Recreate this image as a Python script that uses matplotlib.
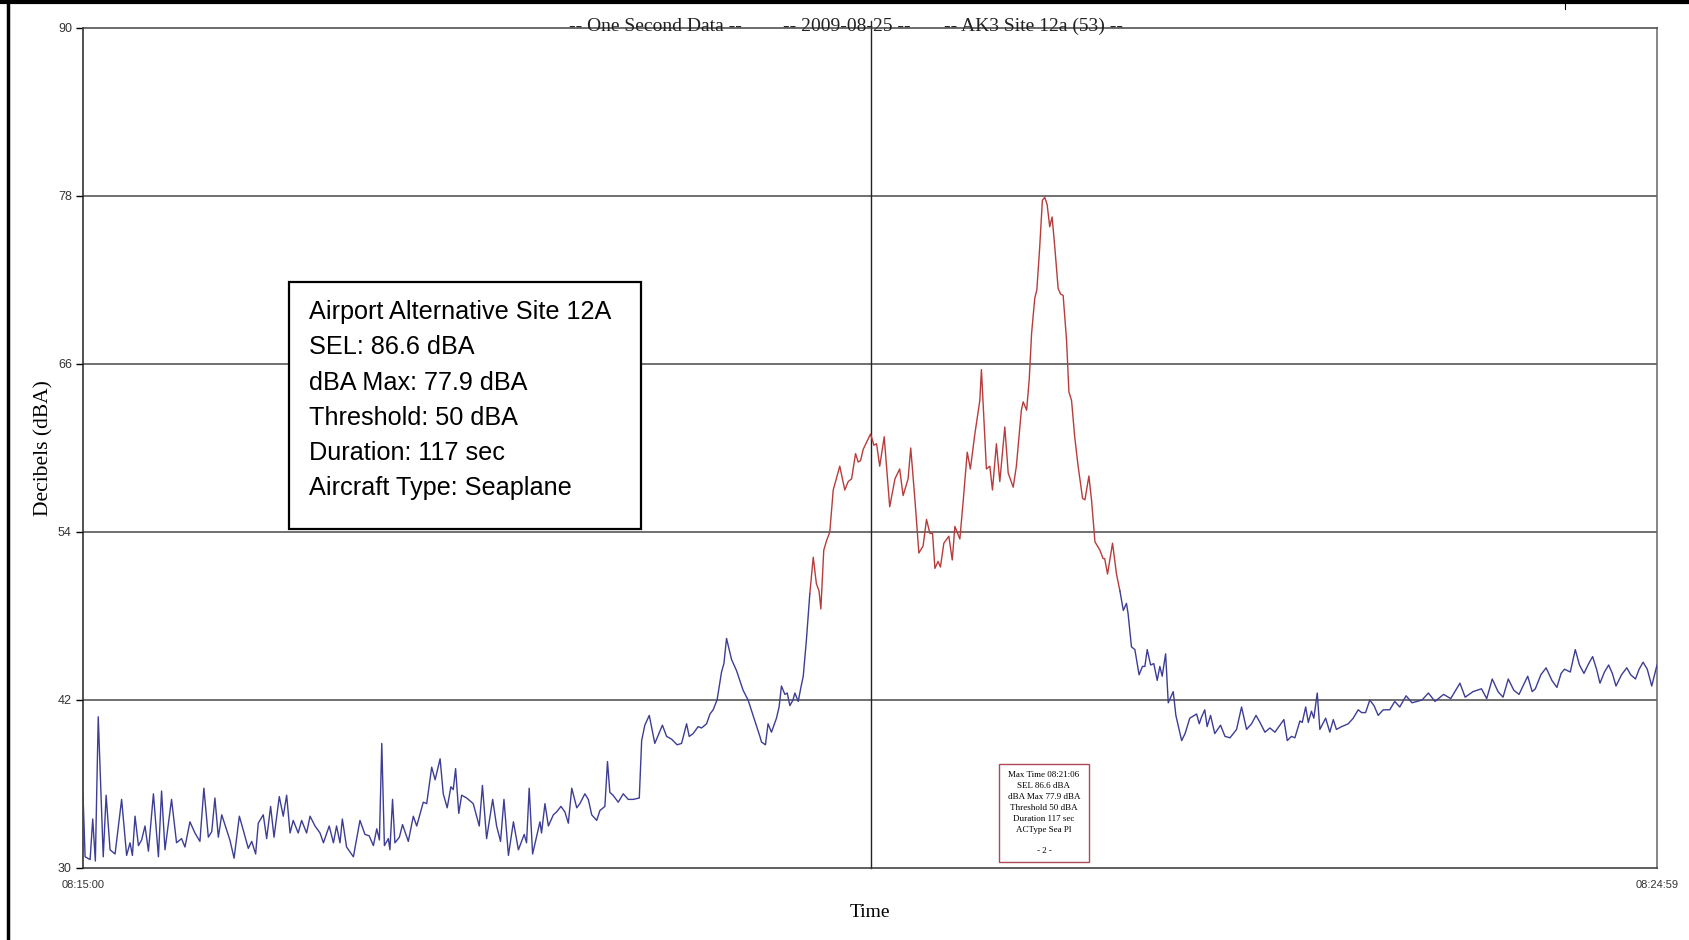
import numpy as np
import matplotlib.pyplot as plt
from matplotlib.patches import Rectangle
from matplotlib.lines import Line2D

#%%----- data (seconds after 08:15:00, dBA) -----------------------------------
secs = [0, 0.8, 2.7, 3.7, 4.7, 5.8, 7.7, 8.8, 10.3, 12.2, 14.7, 16.6, 17.9, 18.8,
        19.8, 21.1, 22.3, 23.6, 24.9, 26.8, 28.7, 29.9, 31.2, 33.7, 35.6, 37.5,
        38.8, 40.7, 42.6, 44.5, 46.0, 47.7, 49.0, 50.2, 51.5, 52.8, 54.7, 55.9,
        57.5, 59.5, 61.0, 62.9, 64.2, 65.7, 66.7, 68.6, 69.9, 71.4, 72.7, 74.7,
        76.2, 77.5, 78.8, 80.0, 81.9, 83.2, 85.1, 86.4, 88.3, 90.2, 91.5, 93.7,
        95.3, 96.5, 97.8, 98.7, 100.3, 102.9, 105.4, 107.3, 108.9, 110.5, 111.8,
        112.8, 113.7, 114.7, 116.2, 116.8, 117.8, 118.7, 120.4, 121.6, 123.8,
        125.7, 127.0, 129.5, 130.8, 132.7, 134.0, 135.9, 137.1, 138.6, 140.0,
        140.9, 141.8, 143.0, 144.1, 146.0, 148.5, 150.8, 152.0, 153.6, 155.9,
        157.4, 158.9, 160.2, 161.9, 163.8, 165.7, 167.9, 168.8, 169.8, 171.1,
        173.9, 174.5, 175.8, 177.1, 179.0, 180.2, 181.9, 183.4, 184.7, 186.0,
        187.9, 189.1, 191.0, 192.3, 193.6, 195.5, 196.7, 198.6, 199.6, 200.5,
        201.7, 203.7, 205.6, 207.5, 209.4, 211.7, 212.6, 213.8, 215.5, 217.6,
        220.5, 222.1, 224.0, 226.1, 227.8, 229.7, 230.7, 232.2, 234.1, 235.4,
        237.3, 238.6, 239.8, 241.3, 243.0, 243.9, 244.9, 246.8, 248.7, 251.2,
        253.1, 255.0, 257.6, 258.2, 259.7, 260.7, 262.0, 263.9, 264.9, 265.8,
        267.1, 268.0, 269.0, 270.2, 270.9, 272.2, 273.2, 274.1, 275.3, 276.6,
        277.9, 279.1, 280.1, 280.8, 281.9, 283.0, 284.2, 285.5, 288.0, 289.9,
        291.2, 292.5, 294.0, 295.0, 295.9, 296.9, 299.7, 301.0, 302.0, 303.2,
        304.9, 307.0, 309.0, 310.8, 312.1, 314.0, 315.0, 316.6, 318.1, 319.7,
        321.0, 322.3, 323.3, 324.2, 325.4, 326.3, 327.6, 329.5, 330.8, 331.8,
        333.7, 335.0, 336.5, 337.7, 339.4, 341.3, 341.9, 343.8, 345.1, 346.1,
        347.6, 348.9, 350.8, 352.1, 354.0, 355.2, 357.1, 357.8, 359.1, 360.1,
        361.0, 362.2, 363.0, 364.1, 365.1, 366.0, 366.9, 367.9, 368.8, 369.8,
        371.1, 372.0, 373.0, 374.3, 375.2, 376.2, 377.4, 378.7, 380.4, 381.3,
        382.8, 383.8, 385.1, 387.0, 388.2, 388.8, 389.9, 391.8, 393.3, 394.6,
        395.9, 397.1, 397.7, 399.0, 400.3, 401.9, 403.2, 404.1, 405.0, 406.3,
        407.5, 408.8, 409.8, 410.7, 412.0, 413.0, 414.9, 415.9, 418.1, 419.4,
        421.2, 423.8, 424.8, 425.7, 426.9, 427.8, 429.1, 430.7, 432.9, 434.6,
        436.5, 439.0, 440.9, 442.8, 444.7, 446.4, 447.9, 449.8, 451.7, 453.6,
        455.1, 457.0, 458.3, 459.9, 461.2, 463.1, 464.0, 465.3, 466.3, 467.5,
        468.4, 469.7, 470.7, 472.9, 474.5, 475.8, 477.0, 479.0, 481.5, 483.4,
        485.3, 486.6, 488.1, 489.7, 491.3, 492.9, 494.8, 497.3, 499.2, 501.1,
        503.5, 505.8, 509.6, 512.0, 514.5, 517.8, 520.5, 524.0, 526.0, 529.0,
        532.2, 534.2, 536.3, 538.5, 540.4, 542.4, 544.5, 546.5, 548.0, 549.8,
        551.5, 552.7, 554.8, 556.8, 559.0, 560.9, 562.5, 563.8, 566.0, 567.9,
        569.5, 571.2, 573.0, 574.5, 576.0, 577.3, 579.0, 580.6, 582.0, 583.4,
        585.5, 587.5, 589.0, 590.8, 592.2, 593.7, 595.3, 597.0, 599.0]

dba = [35.3, 30.8, 30.6, 33.5, 30.5, 40.8, 30.8, 35.2, 31.3, 31.0, 34.9, 30.9, 31.8, 30.9,
       33.7, 31.6, 32.0, 33.0, 31.2, 35.3, 30.8, 35.5, 31.3, 34.9, 31.8, 32.1,
       31.5, 33.3, 32.5, 31.9, 35.7, 32.2, 32.6, 35.0, 32.2, 33.8, 32.7, 32.0,
       30.7, 33.7, 32.7, 31.4, 31.9, 31.0, 33.2, 33.8, 32.1, 34.4, 32.2, 35.1,
       33.7, 35.2, 32.5, 33.4, 32.5, 33.4, 32.5, 33.7, 33.0, 32.5, 31.8, 33.0,
       31.8, 33.0, 31.8, 33.5, 31.5, 30.8, 33.4, 32.4, 32.3, 31.6, 32.8,
       32.0, 38.9, 31.6, 32.1, 31.3, 34.9, 31.8, 32.2, 33.1, 31.9,
       33.7, 33.0, 34.7, 34.6, 37.2, 36.3, 37.8, 35.3, 34.3, 35.8,
       35.6, 37.1, 33.9, 35.2, 35.0, 34.6, 33.0, 35.9, 32.1, 34.9,
       33.0, 31.9, 34.9, 30.9, 33.3, 31.3, 32.4, 31.8, 35.7, 31.0,
       33.3, 32.5, 34.6, 33.0, 33.8, 34.0, 34.4, 34.0, 33.2, 35.7,
       34.3, 34.6, 35.3, 34.9, 33.8, 33.4, 34.1, 34.4, 37.6, 35.4,
       35.2, 34.7, 35.3, 34.9, 34.9, 35.0, 39.1, 40.2, 40.9, 38.9,
       40.2, 39.4, 39.2, 38.8, 38.9, 40.3, 39.4, 39.6, 40.1, 40.0,
       40.3, 41.0, 41.3, 42.0, 44.0, 44.6, 46.4, 44.9, 44.1, 42.7,
       42.0, 40.9, 39.4, 39.0, 38.8, 40.3, 39.7, 40.7, 41.5, 43.0,
       42.4, 42.5, 41.6, 42.0, 42.5, 41.9, 42.9, 43.7, 46.3, 49.6,
       52.2, 50.3, 49.8, 48.5, 52.7, 53.4, 54.0, 57.0, 58.7, 57.0,
       57.6, 57.8, 59.6, 59.0, 59.1, 59.9, 61.0, 60.2, 60.3, 58.7,
       60.8, 55.8, 57.8, 58.5, 56.6, 57.8, 60.0, 56.3, 52.5, 53.0,
       54.9, 53.9, 53.9, 51.4, 51.9, 51.5, 53.2, 53.7, 52.0, 54.4,
       53.5, 56.3, 59.7, 58.5, 61.0, 63.4, 65.6, 58.5, 58.7, 57.0,
       60.3, 57.6, 61.5, 58.2, 57.2, 58.7, 62.7, 63.3, 62.7, 64.9,
       68.2, 70.7, 71.3, 74.4, 77.7, 77.9, 77.4, 75.8, 76.5, 74.4,
       71.4, 71.0, 70.9, 67.7, 64.0, 63.4, 60.8, 58.7, 56.4, 56.3,
       58.0, 56.3, 53.3, 52.7, 52.1, 52.1, 51.0, 53.2, 51.0, 49.8,
       48.4, 48.9, 48.2, 45.8, 45.6, 43.8, 44.4, 44.4, 45.6, 44.5,
       44.6, 43.4, 44.4, 43.7, 45.3, 41.8, 42.6, 40.9, 39.1, 39.6,
       40.7, 41.0, 40.3, 40.8, 41.3, 40.1, 40.9, 39.6, 40.2, 39.4,
       39.3, 39.9, 41.5, 39.9, 40.3, 40.9, 40.4, 39.7, 40.0, 39.7,
       40.1, 40.6, 39.1, 39.4, 39.3, 40.5, 40.4, 41.5, 40.4, 41.2,
       40.7, 42.5, 39.9, 40.7, 39.7, 40.6, 39.9, 40.1, 40.3, 40.7,
       41.3, 41.1, 41.1, 42.0, 41.6, 40.9, 41.3, 41.3, 41.9, 41.5,
       42.3, 41.8, 42.0, 42.5, 41.9, 42.4, 42.1, 43.2, 42.2, 42.6,
       42.8, 42.1, 43.5, 42.6, 42.2, 43.5, 42.7, 42.4, 43.0, 43.7,
       42.6, 42.8, 43.8, 44.3, 43.4, 42.9, 43.9, 44.2, 44.0, 45.6,
       44.5, 43.9, 44.6, 45.1, 44.2, 43.2, 44.0, 44.5, 43.9, 43.0,
       43.8, 44.3, 43.8, 43.5, 44.2, 44.7, 44.2, 43.0, 44.5]

event_start = 276.6   # first second above threshold
event_end = 394.6     # 117 sec later

y_ticks = [30, 42, 54, 66, 78, 90]
x_ticks = [0, 599]
x_tick_labels = ['08:15:00', '08:24:59']
center_time = 300

title_parts = ['-- One Second Data --', '-- 2009-08-25 --', '-- AK3 Site 12a (53) --']
info_lines = ['Airport Alternative Site 12A', 'SEL: 86.6 dBA', 'dBA Max: 77.9 dBA',
              'Threshold: 50 dBA', 'Duration: 117 sec', 'Aircraft Type: Seaplane']
small_lines = ['Max Time 08:21:06', 'SEL 86.6 dBA', 'dBA Max 77.9 dBA',
               'Threshold 50 dBA', 'Duration 117 sec', 'ACType Sea Pl']

#%%----- figure ---------------------------------------------------------------
W, H = 1690, 940
def fx(x):
    return x / W
def fy(y):
    return 1 - y / H

serif = ['Liberation Serif', 'DejaVu Serif']
narrow = ['Liberation Sans Narrow', 'Liberation Sans', 'DejaVu Sans']

fig = plt.figure(figsize=(16.9, 9.4), dpi=100)
ax = fig.add_axes([fx(83), fy(868), fx(1657) - fx(83), fy(28) - fy(868)])

t = np.array(secs)
v = np.array(dba)
blue = '#3d3d96'
red = '#b83c3c'
m1 = t <= event_start
m2 = (t >= event_start) & (t <= event_end)
m3 = t >= event_end
ax.plot(t[m1], v[m1], color=blue, lw=1.0, zorder=3)
ax.plot(t[m2], v[m2], color=red, lw=1.0, zorder=3)
ax.plot(t[m3], v[m3], color=blue, lw=1.0, zorder=3)

ax.set_xlim(0, 599)
ax.set_ylim(30, 90)
for yy in y_ticks[1:-1]:
    ax.axhline(yy, color='#4a4a4a', lw=1.1, zorder=1)
ax.axvline(center_time, ymin=0, ymax=1.008, color='#222222', lw=1.0, zorder=1, clip_on=False)

ax.set_yticks(y_ticks)
ax.set_xticks(x_ticks)
ax.set_xticklabels(x_tick_labels)
ax.tick_params(axis='x', length=0, pad=9, labelsize=8)
ax.tick_params(axis='y', length=5, width=1, pad=3, labelsize=9, direction='out')
for lab in ax.get_xticklabels() + ax.get_yticklabels():
    lab.set_fontfamily(narrow)
    lab.set_color('#333333')

ax.spines['left'].set_color('#222222')
ax.spines['bottom'].set_color('#333333')
ax.spines['top'].set_color('#444444')
ax.spines['right'].set_color('#666666')
for s in ax.spines.values():
    s.set_linewidth(1.1)

ax.set_ylabel('Decibels (dBA)', fontfamily=serif, fontsize=15.5, labelpad=3)
ax.set_xlabel('Time', fontfamily=serif, fontsize=14, labelpad=10)

# title pieces sitting on top border
for xc, txt in zip([655, 847, 1034], title_parts):
    fig.text(fx(xc), fy(31), txt, ha='center', va='baseline',
             fontfamily=serif, fontsize=14, color='#222222')

# main info box
fig.add_artist(Rectangle((fx(289), fy(529)), fx(641) - fx(289), fy(282) - fy(529),
                         transform=fig.transFigure, facecolor='white',
                         edgecolor='black', lw=1.6, zorder=5))
for i, line in enumerate(info_lines):
    fig.text(fx(309), fy(312 + i * 35.3), line, ha='left', va='center',
             fontfamily=['Liberation Sans', 'DejaVu Sans'], fontsize=18.2, zorder=6)

# small red summary box
fig.add_artist(Rectangle((fx(999), fy(862)), fx(1089) - fx(999), fy(764) - fy(862),
                         transform=fig.transFigure, facecolor='white',
                         edgecolor='#b04858', lw=1.0, zorder=5))
for i, line in enumerate(small_lines):
    fig.text(fx(1044), fy(775 + i * 11), line, ha='center', va='center',
             fontfamily=serif, fontsize=6.5, zorder=6)
fig.text(fx(1044), fy(851), '- 2 -', ha='center', va='center',
         fontfamily=serif, fontsize=6.5, zorder=6)

# page border fragments
fig.add_artist(Line2D([0, 1], [fy(2), fy(2)], transform=fig.transFigure, color='black', lw=3))
fig.add_artist(Line2D([fx(8.5), fx(8.5)], [0, 1], transform=fig.transFigure, color='black', lw=2.5))
fig.add_artist(Line2D([fx(1565), fx(1565)], [fy(2), fy(9)], transform=fig.transFigure, color='black', lw=0.8))

fig.savefig('out.png', dpi=100)
